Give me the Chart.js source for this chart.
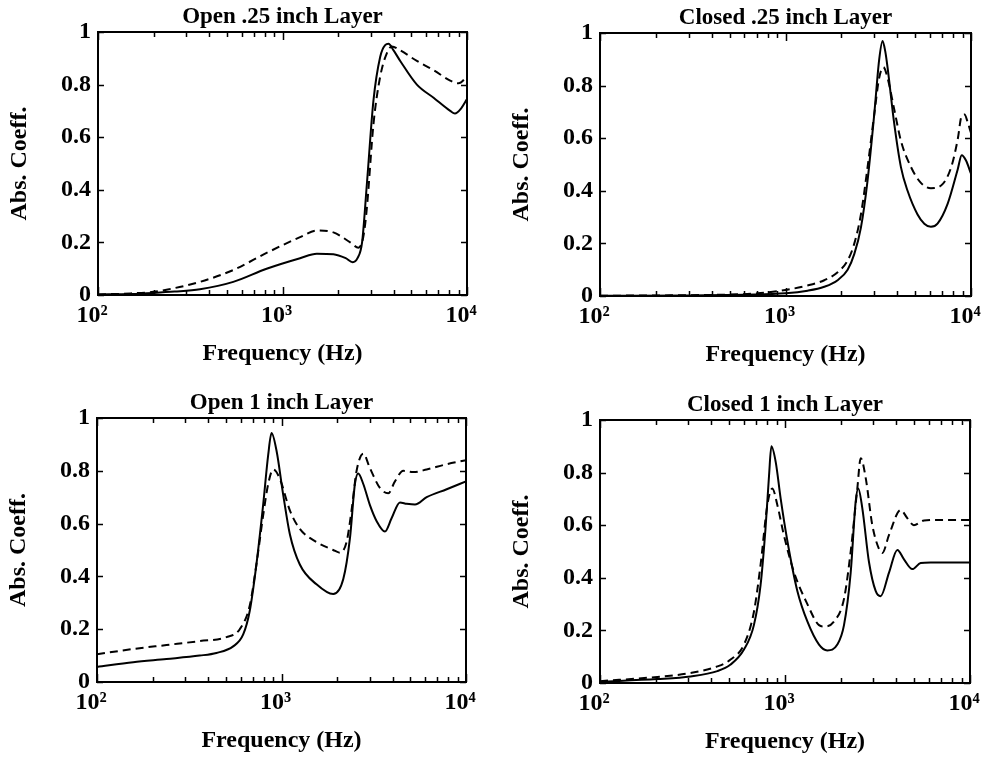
<!DOCTYPE html>
<html><head><meta charset="utf-8">
<script src="https://cdn.jsdelivr.net/npm/chart.js@4/dist/chart.umd.min.js"></script>
<style>
html,body{margin:0;padding:0;background:#fff;width:982px;height:757px;overflow:hidden;position:relative}
canvas{position:absolute}
</style></head><body>
<canvas id="c0"></canvas><canvas id="c1"></canvas><canvas id="c2"></canvas><canvas id="c3"></canvas>
<script>
// ---- text ----
const panelTitles = ['Open .25 inch Layer', 'Closed .25 inch Layer', 'Open 1 inch Layer', 'Closed 1 inch Layer'];
const xAxisTitle = 'Frequency (Hz)';
const yAxisTitle = 'Abs. Coeff.';
const xTickValues = [100, 1000, 10000];
const xTickLabels = ['10²', '10³', '10⁴'];
const yTickValues = [0, 0.2, 0.4, 0.6, 0.8, 1];
const yTickLabels = ['0', '0.2', '0.4', '0.6', '0.8', '1'];

// ---- Open .25 inch Layer ----
const open25SolidF = [100,150,200,260,357,541,820,1245,1535,1888,2200,2400,2550,2700,2865,3112,3383,3600,3756,4000,4346,5350,6590,8110,8600,9300,10000];
const open25SolidY = [0.002,0.004,0.008,0.013,0.022,0.05,0.10,0.14,0.157,0.155,0.14,0.125,0.14,0.2,0.42,0.74,0.905,0.95,0.955,0.93,0.89,0.80,0.75,0.70,0.69,0.71,0.745];
const open25DashF = [100,150,200,235,357,541,820,1245,1535,1888,2328,2580,2740,2865,3112,3383,3680,3915,4346,5350,6590,8110,9000,10000];
const open25DashY = [0.002,0.006,0.012,0.02,0.05,0.095,0.16,0.22,0.245,0.238,0.2,0.18,0.22,0.33,0.65,0.83,0.92,0.945,0.93,0.89,0.855,0.815,0.805,0.83];

// ---- Closed .25 inch Layer ----
const closed25SolidF = [100,300,600,1000,1316,1618,1910,2163,2350,2550,2770,3008,3200,3335,3450,3548,3855,4190,4550,5150,5600,6080,6600,7480,8470,8910,9400,10000];
const closed25SolidY = [0.001,0.002,0.005,0.01,0.02,0.035,0.06,0.10,0.16,0.26,0.44,0.69,0.90,0.97,0.93,0.87,0.656,0.49,0.40,0.31,0.275,0.263,0.275,0.35,0.48,0.535,0.515,0.465];
const closed25DashF = [100,300,467,706,1000,1316,1618,1910,2163,2350,2550,2770,3008,3200,3370,3548,3855,4190,4750,5370,6080,6900,7820,8500,8860,9230,9600,10000];
const closed25DashY = [0.001,0.003,0.005,0.01,0.023,0.04,0.06,0.09,0.135,0.2,0.31,0.49,0.69,0.83,0.87,0.83,0.71,0.59,0.49,0.43,0.41,0.42,0.49,0.6,0.68,0.69,0.66,0.62];

// ---- Open 1 inch Layer ----
const open1SolidF = [100,157,238,360,444,547,620,673,731,795,847,883,941,1021,1110,1257,1548,1907,2162,2350,2500,2605,2775,3015,3275,3635,3950,4385,4770,5290,6120,7860,10000];
const open1SolidY = [0.057,0.075,0.087,0.10,0.11,0.135,0.18,0.27,0.445,0.67,0.86,0.943,0.874,0.71,0.56,0.445,0.37,0.333,0.39,0.545,0.75,0.79,0.75,0.67,0.61,0.57,0.62,0.68,0.675,0.672,0.70,0.73,0.76];
const open1DashF = [100,157,238,360,503,594,673,731,795,847,901,979,1110,1257,1548,1907,2071,2252,2397,2553,2775,3015,3415,3790,4120,4570,5180,6120,7860,10000];
const open1DashY = [0.105,0.125,0.14,0.155,0.17,0.20,0.29,0.445,0.63,0.75,0.805,0.77,0.65,0.58,0.53,0.50,0.49,0.53,0.65,0.80,0.865,0.81,0.735,0.715,0.76,0.80,0.795,0.805,0.825,0.84];

// ---- Closed 1 inch Layer ----
const closed1SolidF = [100,204,309,431,508,600,679,738,785,820,844,891,948,1030,1166,1321,1527,1693,1918,2084,2265,2410,2489,2617,2844,3090,3288,3650,4048,4398,4877,5410,6125,10000];
const closed1SolidY = [0.005,0.015,0.025,0.045,0.07,0.127,0.22,0.373,0.59,0.79,0.90,0.84,0.70,0.54,0.35,0.234,0.146,0.124,0.146,0.22,0.42,0.69,0.74,0.665,0.46,0.35,0.33,0.42,0.506,0.47,0.433,0.456,0.458,0.458];
const closed1DashF = [100,204,309,431,508,600,679,738,803,854,909,988,1120,1321,1527,1626,1841,2084,2265,2460,2566,2730,2965,3220,3357,3650,4220,4580,4975,5640,6935,10000];
const closed1DashY = [0.007,0.023,0.038,0.063,0.089,0.146,0.27,0.45,0.677,0.74,0.677,0.56,0.42,0.30,0.22,0.215,0.234,0.32,0.50,0.74,0.855,0.78,0.60,0.51,0.494,0.563,0.658,0.627,0.60,0.618,0.62,0.62];

const panelSeries = [
  [open25SolidF, open25SolidY, open25DashF, open25DashY],
  [closed25SolidF, closed25SolidY, closed25DashF, closed25DashY],
  [open1SolidF, open1SolidY, open1DashF, open1DashY],
  [closed1SolidF, closed1SolidY, closed1DashF, closed1DashY]
];

// plot-area placement on the page
const areas = [
  {l: 98, r: 467, t: 32, b: 295},
  {l: 600, r: 971, t: 33, b: 296},
  {l: 97, r: 466, t: 418, b: 682},
  {l: 600, r: 970, t: 420, b: 683}
];
const LEFT = 98, RIGHT = 34, TOP = 32, BOTTOM = 85;

Chart.defaults.font.family = "'Liberation Serif','Times New Roman',serif";
Chart.defaults.color = '#000';

const zip = (fs, ys) => fs.map((f, i) => ({x: f, y: ys[i]}));

const frameTicks = {
  id: 'frameTicks',
  afterDraw(chart) {
    const {ctx, chartArea: a, scales} = chart;
    const xs = scales.x, ys = scales.y;
    ctx.save();
    ctx.strokeStyle = '#000';
    ctx.lineWidth = 1.5;
    ctx.beginPath();
    for (let d = 100; d <= 10000; d *= 10) {
      for (let m = 1; m <= 9; m++) {
        const v = m * d;
        if (v > 10000) break;
        const px = Math.round(xs.getPixelForValue(v)) + 0.5;
        const len = m === 1 ? 8 : 5;
        ctx.moveTo(px, a.bottom); ctx.lineTo(px, a.bottom - len);
        ctx.moveTo(px, a.top); ctx.lineTo(px, a.top + len);
      }
    }
    ys.ticks.forEach(t => {
      const py = Math.round(ys.getPixelForValue(t.value)) + 0.5;
      ctx.moveTo(a.left, py); ctx.lineTo(a.left + 6, py);
      ctx.moveTo(a.right, py); ctx.lineTo(a.right - 6, py);
    });
    ctx.stroke();
    ctx.lineWidth = 2;
    ctx.strokeRect(a.left, a.top, a.right - a.left, a.bottom - a.top);
    ctx.restore();
  }
};

areas.forEach((A, i) => {
  const cv = document.getElementById('c' + i);
  const w = (A.r - A.l) + LEFT + RIGHT;
  const h = (A.b - A.t) + TOP + BOTTOM;
  cv.width = w; cv.height = h;
  cv.style.left = (A.l - LEFT) + 'px';
  cv.style.top = (A.t - TOP) + 'px';
  cv.style.width = w + 'px'; cv.style.height = h + 'px';
  const [sf, sy, df, dy] = panelSeries[i];
  new Chart(cv, {
    type: 'line',
    data: {
      datasets: [
        {data: zip(sf, sy), borderColor: '#000', borderWidth: 2, pointRadius: 0, cubicInterpolationMode: 'monotone', fill: false, clip: 3},
        {data: zip(df, dy), borderColor: '#000', borderWidth: 2, borderDash: [8, 5], pointRadius: 0, cubicInterpolationMode: 'monotone', fill: false, clip: 3}
      ]
    },
    options: {
      responsive: false,
      animation: false,
      devicePixelRatio: 1,
      layout: {padding: {left: 0, right: RIGHT, top: 0, bottom: 0}},
      plugins: {
        legend: {display: false},
        tooltip: {enabled: false},
        title: {
          display: true, text: panelTitles[i], fullSize: false,
          font: {size: 23, weight: 'bold'}, color: '#000',
          padding: {top: 3, bottom: 1.4}
        }
      },
      scales: {
        x: {
          type: 'logarithmic', min: 100, max: 10000,
          grid: {display: false, drawTicks: false}, border: {display: false},
          afterFit: s => { s.height = BOTTOM; },
          ticks: {
            autoSkip: false, maxRotation: 0, padding: 6,
            font: {size: 24, weight: 'bold'},
            callback: v => { const k = xTickValues.indexOf(v); return k >= 0 ? xTickLabels[k] + '\u2002' : ''; }
          },
          title: {display: true, text: xAxisTitle, font: {size: 24, weight: 'bold'}, padding: {top: 0, bottom: 12}}
        },
        y: {
          min: 0, max: 1,
          grid: {display: false, drawTicks: false}, border: {display: false},
          afterFit: s => { s.width = LEFT; },
          ticks: {
            stepSize: 0.2, padding: 7,
            font: {size: 24, weight: 'bold'},
            callback: v => { const k = yTickValues.findIndex(t => Math.abs(t - v) < 1e-9); return k >= 0 ? yTickLabels[k] : ''; }
          },
          title: {display: true, text: yAxisTitle, font: {size: 24, weight: 'bold'}, padding: {top: 5, bottom: 0}}
        }
      }
    },
    plugins: [frameTicks]
  });
});
</script>
</body></html>
